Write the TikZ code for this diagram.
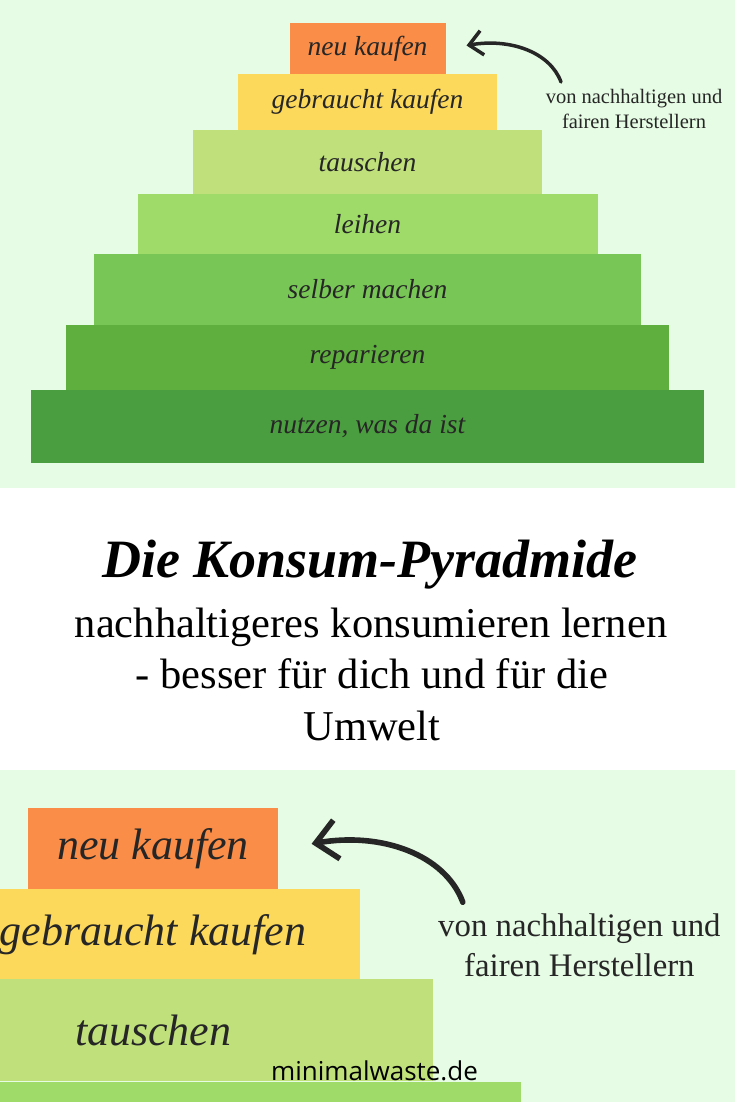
\documentclass[tikz,border=0pt]{standalone}
\usepackage{fontspec}
\setmainfont{Liberation Serif}
\newfontfamily\webfont{Open Sans}
\usepackage{xcolor}
\usepackage{tikz}
\usetikzlibrary{positioning}
\usetikzlibrary{arrows.meta}

\definecolor{hintergrund}{HTML}{E6FCE4}
\definecolor{schrift}{HTML}{262626}
\definecolor{stufeNeu}{HTML}{FA8D48}
\definecolor{stufeGebraucht}{HTML}{FCD95B}
\definecolor{stufeTauschen}{HTML}{BFE07A}
\definecolor{stufeLeihen}{HTML}{9EDB68}
\definecolor{stufeSelber}{HTML}{78C756}
\definecolor{stufeReparieren}{HTML}{5EAF3D}
\definecolor{stufeNutzen}{HTML}{4B9E3F}

\newcommand{\pyramide}[1]{%
  \node[stufe=stufeNeu, minimum width=156, minimum height=51, anchor=north] (neu) at (367.5,23) {neu kaufen};
  \node[stufe=stufeGebraucht, minimum width=259, minimum height=56, below=0pt of neu] (gebraucht) {gebraucht kaufen};
  \node[stufe=stufeTauschen, minimum width=349, minimum height=64, below=0pt of gebraucht] (tauschen) {tauschen};
  \node[stufe=stufeLeihen, minimum width=460, minimum height=60, below=0pt of tauschen] (leihen) {leihen};
  \node[stufe=stufeSelber, minimum width=547, minimum height=71, below=0pt of leihen] (selber) {selber machen};
  \node[stufe=stufeReparieren, minimum width=603, minimum height=65, below=0pt of selber] (reparieren) {reparieren};
  \node[stufe=stufeNutzen, minimum width=673, minimum height=73, below=0pt of reparieren] (nutzen) {nutzen, was da ist};
  \node[hinweis] (hinweis) at (634,109) {von nachhaltigen und\\fairen Herstellern};
  \coordinate (pfeilstart) at (561,82);
  \draw[pfeil, line width=#1] (pfeilstart) .. controls (550,52) and (510,38) .. ([shift={(21,-3)}]neu.east);
}

\begin{document}
\begin{tikzpicture}[
  x=1pt, y=-1pt,
  stufe/.style={rectangle, fill=#1, inner sep=0pt, outer sep=0pt, text=schrift,
    font=\fontsize{27.5}{27.5}\selectfont\itshape},
  hinweis/.style={align=center, text=schrift, font=\fontsize{20.5}{25}\selectfont},
  pfeil/.style={-{Straight Barb[length=0pt 3.8, width=0pt 7]}, line cap=round, draw=schrift},
  titel/.style={text=black, font=\fontsize{54}{54}\selectfont\bfseries\itshape},
  zeile/.style={text=black, font=\fontsize{42.5}{42.5}\selectfont}
]
\useasboundingbox (0,0) rectangle (735,1102);
\fill[hintergrund] (0,0) rectangle (735,488);
\fill[white] (0,488) rectangle (735,770);
\fill[hintergrund] (0,770) rectangle (735,1102);

\begin{scope}[name prefix=oben-]
  \pyramide{3.5pt}
\end{scope}

\node[titel, anchor=base] (titel) at (370,577) {Die Konsum-Pyradmide};
\node[zeile, anchor=base] (zeile1) at (371,637) {nachhaltigeres konsumieren lernen};
\node[zeile, anchor=base] (zeile2) at (372,688) {- besser für dich und für die};
\node[zeile, anchor=base] (zeile3) at (372,740) {Umwelt};

\begin{scope}
  \clip (0,770) rectangle (735,1102);
  \begin{scope}[name prefix=unten-, shift={(-435,771)}, scale=1.6, transform shape]
    \pyramide{5.6pt}
  \end{scope}
\end{scope}

\node[anchor=base, text=black, font=\webfont\fontsize{26}{26}\selectfont] (web) at (374.5,1080) {minimalwaste.de};
\end{tikzpicture}
\end{document}
